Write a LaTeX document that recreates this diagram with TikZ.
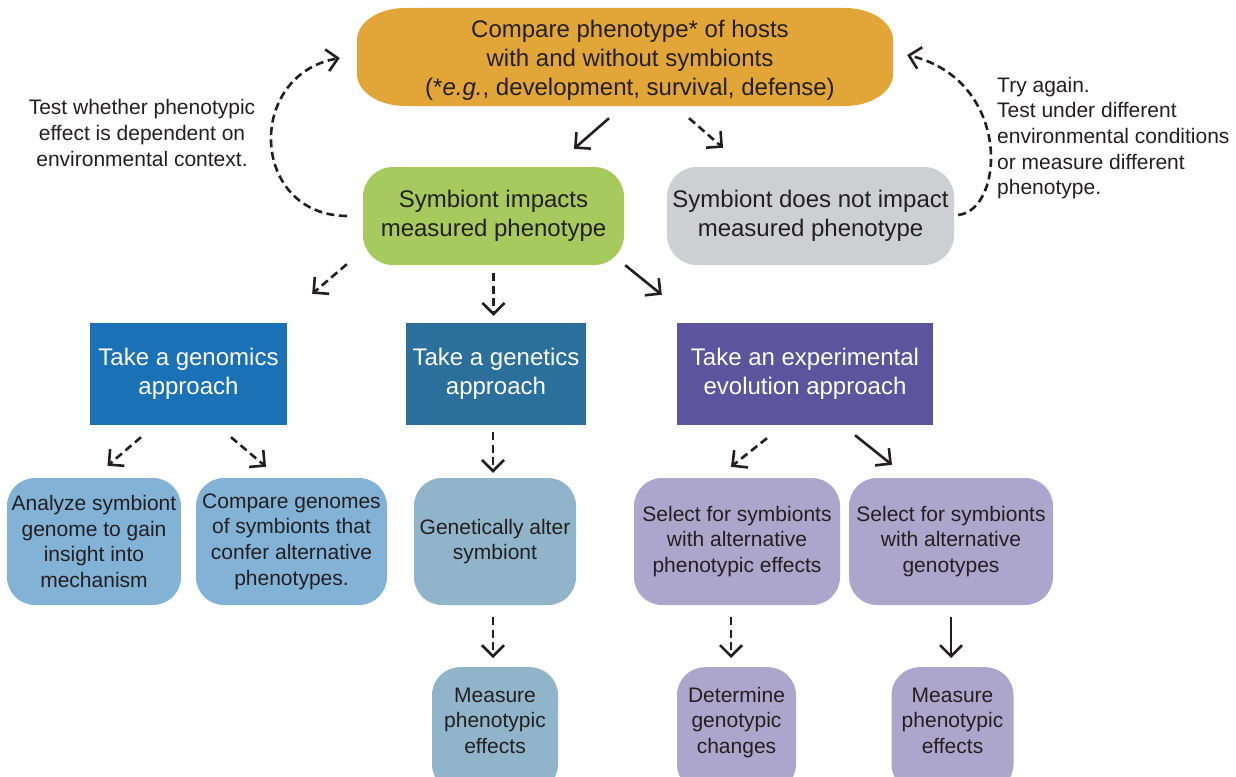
\documentclass[tikz,border=0pt]{standalone}
\usepackage{fontspec}
\setmainfont{Liberation Sans}
\usetikzlibrary{arrows.meta,calc}
\definecolor{txt}{RGB}{35,31,32}
\definecolor{corange}{RGB}{226,166,56}
\definecolor{cgreen}{RGB}{168,201,93}
\definecolor{cgray}{RGB}{205,207,210}
\definecolor{cgenom}{RGB}{27,113,181}
\definecolor{cgenet}{RGB}{43,111,156}
\definecolor{cevo}{RGB}{92,85,157}
\definecolor{clblue}{RGB}{130,178,214}
\definecolor{cgblue}{RGB}{144,180,202}
\definecolor{clav}{RGB}{172,166,204}
\newcommand{\padtext}[1]{\raisebox{0pt}[\height][\dimexpr\depth+14pt\relax]{\begin{tabular}{@{}c@{}}#1\end{tabular}}}
\tikzset{
  tb/.style={inner sep=0pt, text=txt},
  bigf/.style={font=\fontsize{24}{29}\selectfont},
  smallf/.style={font=\fontsize{21}{25.7}\selectfont},
  box/.style={tb, bigf, align=center},
  sbox/.style={tb, smallf, align=center},
  rbox/.style={box, rounded corners=30pt},
  appr/.style={box, text=white, minimum height=102pt},
  leaf/.style={sbox, rounded corners=28pt, minimum height=127pt},
  cutbox/.style={tb, smallf, rounded corners=28pt, minimum height=125pt, anchor=north},
  arr/.style={draw=txt, line width=2.6pt, line join=miter, -{Straight Barb[length=11pt,width=22pt]}},
  darr/.style={arr, dash pattern=on 8pt off 4.5pt},
}
\begin{document}
\begin{tikzpicture}[x=1pt,y=-1pt]
\useasboundingbox (0,0) rectangle (1236,776);
\clip (0,0) rectangle (1236,776);

% top box shape (elliptical corners)
\fill[corange] (405,8) -- (845,8) .. controls (871.5,8) and (893,22.3) .. (893,40)
  -- (893,74) .. controls (893,91.7) and (871.5,106) .. (845,106)
  -- (405,106) .. controls (378.5,106) and (357,91.7) .. (357,74)
  -- (357,40) .. controls (357,22.3) and (378.5,8) .. (405,8) -- cycle;
\node[box, minimum width=536pt, minimum height=98pt] (top) at (630,60)
  {Compare phenotype* of hosts\\with and without symbionts\\(*\textit{e.g.}, development, survival, defense)};

\node[rbox, fill=cgreen, minimum width=261pt, minimum height=98pt] (green) at (493.5,216)
  {Symbiont impacts\\measured phenotype};
\node[rbox, fill=cgray, minimum width=287pt, minimum height=98pt] (gray) at (810.5,216)
  {Symbiont does not impact\\measured phenotype};

\node[sbox] (lt) at (142,133) {Test whether phenotypic\\effect is dependent on\\environmental context.};
\node[tb, smallf, align=left, anchor=west] (rt) at (997,138)
  {Try again.\\Test under different\\environmental conditions\\or measure different\\phenotype.};

\node[appr, fill=cgenom, minimum width=197pt] (gen1) at (188.5,374) {Take a genomics\\approach};
\node[appr, fill=cgenet, minimum width=180pt] (gen2) at (496,374) {Take a genetics\\approach};
\node[appr, fill=cevo, minimum width=256pt] (evo) at (805,374) {Take an experimental\\evolution approach};

\node[leaf, fill=clblue, minimum width=174pt] (an) at (94,541.5)
  {Analyze symbiont\\genome to gain\\insight into\\mechanism};
\node[leaf, fill=clblue, minimum width=191pt] (cg) at (291.5,541.5)
  {Compare genomes\\of symbionts that\\confer alternative\\phenotypes.};
\node[leaf, fill=cgblue, minimum width=162pt] (alt) at (495,541.5)
  {Genetically alter\\symbiont};
\node[leaf, fill=clav, minimum width=206pt] (selp) at (737,541.5)
  {Select for symbionts\\with alternative\\phenotypic effects};
\node[leaf, fill=clav, minimum width=204pt] (selg) at (951,541.5)
  {Select for symbionts\\with alternative\\genotypes};

\node[cutbox, fill=cgblue, minimum width=126pt] (meas1) at (495,667) {\padtext{Measure\\phenotypic\\effects}};
\node[cutbox, fill=clav, minimum width=119pt] (det) at (736.5,667) {\padtext{Determine\\genotypic\\changes}};
\node[cutbox, fill=clav, minimum width=122pt] (meas2) at (952.5,667) {\padtext{Measure\\phenotypic\\effects}};

% connectors
\draw[arr]  ($(top.south)+(-21,9)$) -- ($(green.north)+(80.5,-18)$);
\draw[darr] ($(top.south)+(59,9)$) -- ($(gray.north)+(-87.5,-19)$);
\draw[darr] ($(green.west)+(-16,0)$) .. controls (250,215) and (245,75) .. ($(top.west)+(-22,-2)$);
\draw[darr] ($(gray.east)+(4,-1)$) .. controls (1005,210) and (1012,80) .. ($(top.east)+(9,-5)$);

\draw[darr] ($(green.south west)+(-16,-1)$) -- ($(gen1.north east)+(25,-29)$);
\draw[darr] ($(green.south)+(0,8)$) -- ($(green.south|-gen2.north)+(0,-7)$);
\draw[arr]  ($(green.south east)+(1,0)$) -- ($(evo.north west)+(-15,-28)$);

\draw[darr] ($(gen1.south)+(-47.5,12)$) -- ($(an.north)+(13.5,-12)$);
\draw[darr] ($(gen1.south)+(42.5,12)$) -- ($(cg.north)+(-25.5,-11)$);
\draw[darr] ($(gen2.south)+(-3,7)$) -- ($(alt.north)+(-2,-5)$);
\draw[darr] ($(evo.south)+(-38,13)$) -- ($(selp.north)+(-6,-11)$);
\draw[arr]  ($(evo.south)+(50,10)$) -- ($(selg.north)+(-59,-13)$);

\draw[darr] ($(alt.south)+(-2,12)$) -- ($(meas1.north)+(-2,-9)$);
\draw[darr] ($(selp.south)+(-6,12)$) -- ($(det.north)+(-5.5,-9)$);
\draw[arr]  ($(selg.south)+(0,12)$) -- ($(meas2.north)+(-1.5,-9)$);
\end{tikzpicture}
\end{document}
